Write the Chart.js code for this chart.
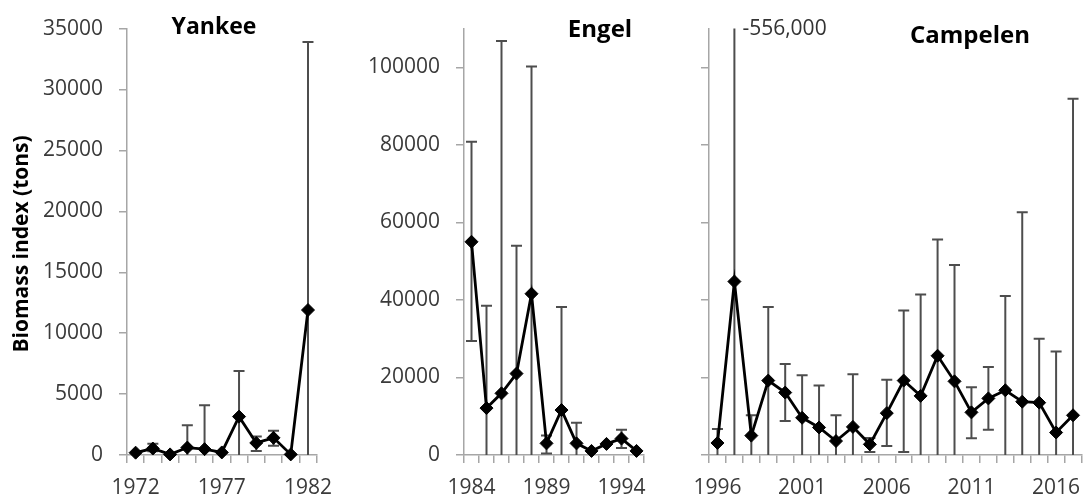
<!DOCTYPE html>
<html>
<head>
<meta charset="utf-8">
<script src="https://cdn.jsdelivr.net/npm/chart.js@4.4.1/dist/chart.umd.min.js"></script>
<style>
  html, body { margin: 0; padding: 0; background: #fff; }
  #wrap { position: relative; width: 1089px; height: 502px; overflow: hidden; }
  canvas { position: absolute; top: 0; }
</style>
</head>
<body>
<div id="wrap">
  <canvas id="yankee" width="345" height="502" style="left:0px"></canvas>
  <canvas id="engel" width="315" height="502" style="left:345px"></canvas>
  <canvas id="campelen" width="429" height="502" style="left:660px"></canvas>
</div>
<script>
// Yankee survey
const yankeeYears = ['1972', '1973', '1974', '1975', '1976', '1977', '1978', '1979', '1980', '1981', '1982'];
const yankeeValues = [190, 530, 50, 610, 480, 210, 3150, 990, 1410, 50, 11900];
const yankeeUpper = [null, 930, null, 2450, 4080, null, 6900, 1520, 2000, null, 33900];
const yankeeLower = [null, 300, null, 0, 0, null, 0, 320, 750, null, 0];
const yankeeTicks = [0, 5000, 10000, 15000, 20000, 25000, 30000, 35000];

// Engel survey
const engelYears = ['1984', '1985', '1986', '1987', '1988', '1989', '1990', '1991', '1992', '1993', '1994', '1995'];
const engelValues = [55000, 12100, 15900, 21000, 41600, 3000, 11600, 3000, 1050, 2860, 4240, 1050];
const engelUpper = [80800, 38500, 106800, 54000, 100200, 5000, 38200, 8300, null, null, 6530, null];
const engelLower = [29400, 0, 0, 0, 0, 400, 0, 0, null, null, 1800, null];
const engelTicks = [0, 20000, 40000, 60000, 80000, 100000];

// Campelen survey
const campelenYears = ['1996', '1997', '1998', '1999', '2000', '2001', '2002', '2003', '2004', '2005', '2006',
  '2007', '2008', '2009', '2010', '2011', '2012', '2013', '2014', '2015', '2016', '2017'];
const campelenValues = [3100, 44750, 5000, 19200, 16100, 9600, 7100, 3600, 7250, 2750, 10800,
  19200, 15250, 25600, 19000, 11000, 14600, 16700, 13750, 13500, 5800, 10250];
const campelenUpper = [6700, 556000, 10250, 38200, 23500, 20600, 17900, 10250, 20800, 4400, 19400,
  37250, 41400, 55600, 49000, 17500, 22700, 41000, 62600, 30000, 26700, 91900];
const campelenLower = [0, 0, 0, 0, 8750, 0, 0, 0, 0, 800, 2300,
  800, 0, 0, 0, 4300, 6500, 0, 0, 0, 0, 0];
const campelenTicks = [0, 20000, 40000, 60000, 80000, 100000];

const FONT = "'Open Sans', 'Noto Sans', sans-serif";
const axisColor = '#a6a6a6';
const tickColor = '#3a3a3a';

// Vẽ error bar (chặn trong vùng biểu đồ)
const errorBarPlugin = {
  id: 'errorBars',
  beforeDatasetsDraw(chart, args, opts) {
    const { ctx, chartArea, scales: { x, y } } = chart;
    ctx.save();
    ctx.beginPath();
    ctx.rect(chartArea.left - 10, chartArea.top, chartArea.right - chartArea.left + 20, chartArea.bottom - chartArea.top);
    ctx.clip();
    ctx.strokeStyle = '#4d4d4d';
    ctx.lineWidth = 2;
    const cap = 5.5;
    opts.upper.forEach((hi, i) => {
      if (hi == null) return;
      const lo = opts.lower[i];
      const px = x.getPixelForValue(i);
      const yHi = y.getPixelForValue(hi);
      const yLo = y.getPixelForValue(lo);
      ctx.beginPath();
      ctx.moveTo(px, yHi);
      ctx.lineTo(px, yLo);
      if (hi < y.max) {
        ctx.moveTo(px - cap, yHi);
        ctx.lineTo(px + cap, yHi);
      }
      if (lo > y.min) {
        ctx.moveTo(px - cap, yLo);
        ctx.lineTo(px + cap, yLo);
      }
      ctx.stroke();
    });
    ctx.restore();
  }
};

// Tiêu đề và chú thích
const textPlugin = {
  id: 'panelText',
  afterDraw(chart, args, opts) {
    const ctx = chart.ctx;
    opts.items.forEach(it => {
      let px = it.x;
      let py = it.y;
      if (it.dataIndex != null) {
        px = chart.scales.x.getPixelForValue(it.dataIndex) + it.x;
        py = chart.chartArea.top + it.y;
      }
      ctx.save();
      ctx.font = it.font;
      ctx.fillStyle = it.color;
      ctx.textAlign = it.align || 'center';
      ctx.textBaseline = it.baseline || 'alphabetic';
      ctx.translate(px, py);
      if (it.rotate) ctx.rotate(it.rotate);
      ctx.fillText(it.text, 0, 0);
      ctx.restore();
    });
  }
};

function makePanel(id, cfg) {
  return new Chart(document.getElementById(id), {
    type: 'line',
    data: {
      labels: cfg.labels,
      datasets: [{
        data: cfg.values,
        borderColor: '#000000',
        borderWidth: 2.8,
        pointStyle: 'rectRot',
        pointRadius: 6.5,
        pointBackgroundColor: '#000000',
        pointBorderColor: '#000000',
        pointBorderWidth: 1,
        tension: 0,
        clip: false
      }]
    },
    options: {
      responsive: false,
      animation: false,
      layout: { padding: cfg.padding },
      plugins: {
        legend: { display: false },
        tooltip: { enabled: false },
        errorBars: { upper: cfg.upper, lower: cfg.lower },
        panelText: { items: cfg.texts }
      },
      scales: {
        x: {
          type: 'category',
          offset: true,
          grid: { offset: true, drawOnChartArea: false, tickLength: 8, color: axisColor, lineWidth: 1.5 },
          border: { color: axisColor, width: 1.5 },
          ticks: {
            autoSkip: false,
            maxRotation: 0,
            padding: 12,
            color: tickColor,
            font: { family: FONT, size: 21 },
            callback: function (v, i) { return i % 5 === 0 ? this.getLabelForValue(v) : ''; }
          },
          afterFit(s) { s.height = 47; }
        },
        y: {
          min: 0,
          max: cfg.max,
          grid: { drawOnChartArea: false, tickLength: 8, color: axisColor, lineWidth: 1.5 },
          border: { color: axisColor, width: 1.5 },
          ticks: {
            padding: 16,
            color: tickColor,
            font: { family: FONT, size: 21 },
            callback: v => cfg.showLabels ? String(v) : ''
          },
          afterBuildTicks(s) { s.ticks = cfg.ticks.map(v => ({ value: v })); },
          afterFit(s) { s.width = cfg.yWidth; }
        }
      }
    },
    plugins: [errorBarPlugin, textPlugin]
  });
}

document.addEventListener('DOMContentLoaded', function () {
  makePanel('yankee', {
    labels: yankeeYears, values: yankeeValues, upper: yankeeUpper, lower: yankeeLower,
    ticks: yankeeTicks, max: 35000, showLabels: true, yWidth: 127,
    padding: { left: 0, right: 22, top: 18, bottom: 0 },
    texts: [
      { text: 'Yankee', x: 214, y: 34, font: 'bold 23px ' + FONT, color: '#000' },
      { text: 'Biomass index (tons)', x: 22, y: 244, rotate: -Math.PI / 2, baseline: 'middle', font: 'bold 21px ' + FONT, color: '#000' }
    ]
  });

  makePanel('engel', {
    labels: engelYears, values: engelValues, upper: engelUpper, lower: engelLower,
    ticks: engelTicks, max: 110000, showLabels: true, yWidth: 119,
    padding: { left: 0, right: 16, top: 6, bottom: 0 },
    texts: [
      { text: 'Engel', x: 255, y: 37, font: 'bold 24px ' + FONT, color: '#000' }
    ]
  });

  makePanel('campelen', {
    labels: campelenYears, values: campelenValues, upper: campelenUpper, lower: campelenLower,
    ticks: campelenTicks, max: 110000, showLabels: false, yWidth: 49,
    padding: { left: 0, right: 3, top: 17, bottom: 0 },
    texts: [
      { text: 'Campelen', x: 310, y: 43, font: 'bold 24px ' + FONT, color: '#000' },
      { text: '-556,000', dataIndex: 1, x: 8, y: 6, align: 'left', font: '21px ' + FONT, color: '#333' }
    ]
  });
});
</script>
</body>
</html>
